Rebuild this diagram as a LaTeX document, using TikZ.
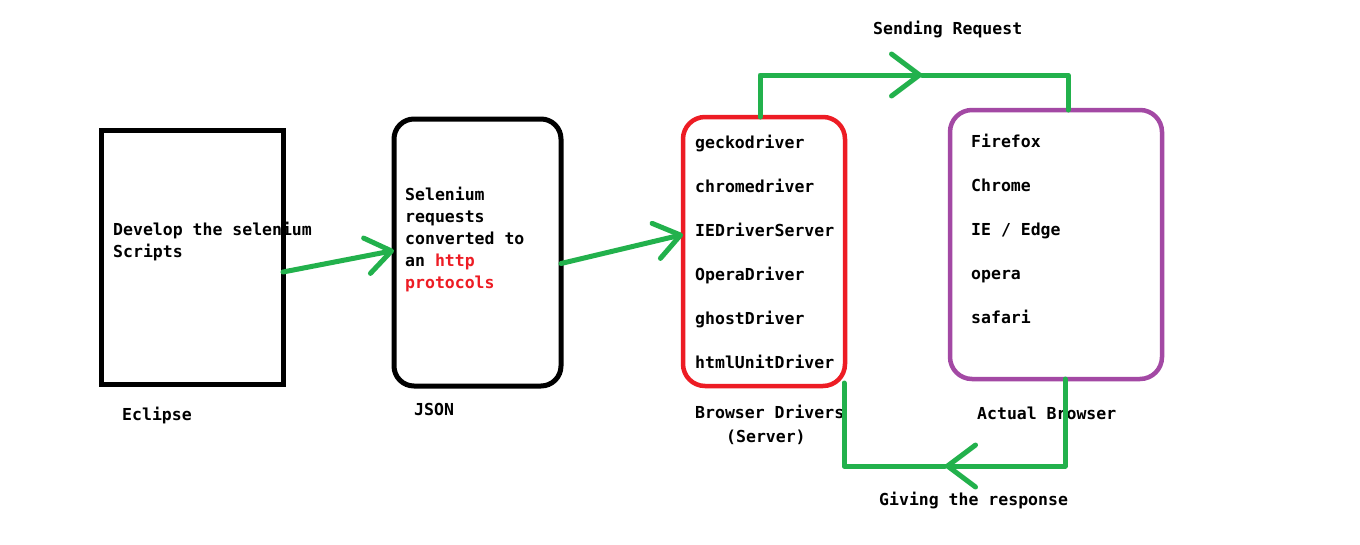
\documentclass[tikz,border=0pt]{standalone}
\usepackage{fontspec}
\setmainfont{DejaVu Sans Mono}
\usetikzlibrary{arrows.meta}
\definecolor{grn}{HTML}{22B14C}
\definecolor{rd}{HTML}{ED1C24}
\definecolor{prp}{HTML}{A349A4}
\begin{document}
\begin{tikzpicture}[x=1pt,y=-1pt,
 txt/.style={anchor=base west,inner sep=0pt,font=\fontsize{16.5}{20}\selectfont\bfseries},
 box/.style={draw,line width=5pt,outer sep=0pt,inner sep=0pt},
 conn/.style={draw=grn,line width=5pt,line cap=round,line join=round},
 barb/.style={-{Straight Barb[length=25pt,width=36pt,round]}},
 midbarb/.style={-{Straight Barb[length=28pt,width=42pt,round]}}]
\useasboundingbox (0,0) rectangle (1360,544);
\fill[white] (0,0) rectangle (1360,544);
% boxes
\node[box,minimum width=182pt,minimum height=254pt] (eclipse) at (192,257) {};
\node[box,rounded corners=20pt,minimum width=167pt,minimum height=267pt] (json) at (477.5,252.5) {};
\node[box,draw=rd,line width=4.5pt,rounded corners=22pt,minimum width=162pt,minimum height=269pt] (drivers) at (764,251.5) {};
\node[box,draw=prp,line width=4.5pt,rounded corners=22pt,minimum width=212pt,minimum height=269pt] (browsers) at (1056,244.5) {};
% texts
\node[txt] (dev1) at (113,235) {Develop the selenium};
\node[txt] (dev2) at (113,257) {Scripts};
\node[txt] (sel1) at (405,200) {Selenium};
\node[txt] (sel2) at (405,222) {requests};
\node[txt] (sel3) at (405,244) {converted to};
\node[txt] (sel4) at (405,266) {an \textcolor{rd}{http}};
\node[txt,text=rd] (sel5) at (405,288) {protocols};
\foreach \t [count=\i from 0] in {geckodriver,chromedriver,IEDriverServer,OperaDriver,ghostDriver,htmlUnitDriver}
  \node[txt] (drv\i) at (695,{148+44*\i}) {\t};
\foreach \t [count=\i from 0] in {Firefox,Chrome,IE / Edge,opera,safari}
  \node[txt] (brw\i) at (971,{147+44*\i}) {\t};
% labels
\node[txt] (lecl) at (122,420) {Eclipse};
\node[txt] (ljson) at (414,415) {JSON};
\node[txt] (ldrv1) at (695,418) {Browser Drivers};
\node[txt] (ldrv2) at (726,442) {(Server)};
\node[txt] (lbrw) at (977,419) {Actual Browser};
\node[txt] (lsend) at (873,34) {Sending Request};
\node[txt] (lgive) at (879,505) {Giving the response};
% connectors
\draw[conn,barb] ([yshift=-15pt]eclipse.east) -- ([yshift=2pt]json.west);
\draw[conn,barb] ([yshift=-11pt]json.east) -- ([yshift=17pt]drivers.west);
\coordinate (tl) at (760,75);
\coordinate (tm) at (922,75);
\coordinate (tr) at (1068,75);
\draw[conn,midbarb] ([xshift=-4pt]drivers.north) -- (tl) -- (tm);
\draw[conn] (tm) -- (tr) -- ([xshift=12pt]browsers.north);
\coordinate (br) at (1065,466);
\coordinate (bm) at (945,466);
\coordinate (bl) at (844,466);
\draw[conn,midbarb] ([xshift=9pt]browsers.south) -- (br) -- (bm);
\draw[conn] (bm) -- (bl) -- ([xshift=-1pt,yshift=3pt]drivers.south east);
\end{tikzpicture}
\end{document}
